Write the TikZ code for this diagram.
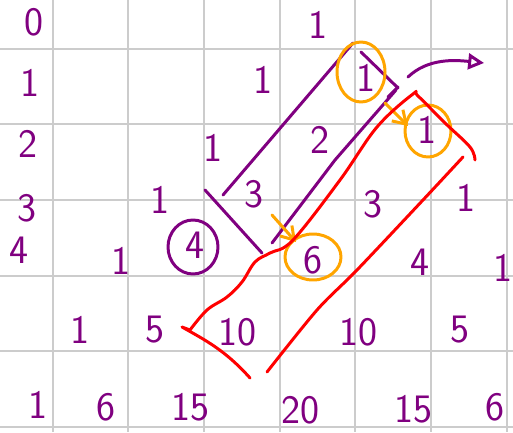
\documentclass[tikz,border=0pt]{standalone}
\usetikzlibrary{arrows.meta}
\definecolor{ink}{RGB}{128,0,128}\definecolor{hl}{RGB}{255,165,0}\definecolor{pen}{RGB}{255,0,0}
\tikzset{>=Stealth,every node/.style={font=\sffamily\fontsize{23}{25}\selectfont,text=ink,inner sep=0pt},
gridline/.style={black!20,line width=1.1pt},stroke/.style={line width=1.7pt,line cap=round,line join=round}}
\begin{document}
\begin{tikzpicture}[x=.02cm,y=-.02cm]
\useasboundingbox (0,0) rectangle (513,432);\fill[white] (0,0) rectangle (513,432);
\foreach \x in {53,128,204,280,355,431,507} \draw[gridline] (\x,0)--(\x,432);
\foreach \y in {49,124,200,276,351,427} \draw[gridline] (0,\y)--(513,\y);
% row labels
\node (r0) at (34,22){0};\node (r1) at (30,83){1};\node (r2) at (28,144){2};\node (r3) at (27,208){3};\node (r4) at (19,250){4};
% triangle
\node (p00) at (318,25){1};
\node (p10) at (263,80){1};\node (p11) at (366,78){1};
\node (p20) at (213,148){1};\node (p21) at (320,140){2};\node (p22) at (427,130){1};
\node (p30) at (160,200){1};\node (p31) at (254,194){3};\node (p32) at (373,204){3};\node (p33) at (466,198){1};
\node (p40) at (121,261){1};\node (p41) at (195,245){4};\node (p42) at (313,260){6};\node (p43) at (420,262){4};\node (p44) at (503,268){1};
\node (p50) at (80,330){1};\node (p51) at (155,330){5};\node (p52) at (237,332){10};\node (p53) at (358,332){10};\node (p54) at (460,330){5};
\node (p60) at (38,405){1};\node (p61) at (106,407){6};\node (p62) at (190,407){15};\node (p63) at (300,410){20};\node (p64) at (413,409){15};\node (p65) at (495,407){6};
% purple strokes
\draw[stroke,ink] (223,195)--(353,43);\draw[stroke,ink] (361,52)--(398,88);\draw[stroke,ink] (388,97)--(398,87);
\draw[stroke,ink] (396,90)--(335,160)--(272,243);\draw[stroke,ink] (205,190)--(262,253);
\draw[stroke,ink] (193,247) ellipse(25 and 27);
\draw[stroke,ink,-{Triangle[open,length=9pt,width=9pt]}] (408,77) .. controls (428,58) and (455,60) .. (484,63);
% orange marks
\draw[stroke,hl] (361,72) ellipse(24 and 30);\draw[stroke,hl] (428,131) ellipse(23 and 26);\draw[stroke,hl] (313,257) ellipse(28 and 23);
\draw[stroke,hl,-{Straight Barb[length=7pt,width=9pt]}] (385,103)--(408,126);
\draw[stroke,hl,-{Straight Barb[length=7pt,width=9pt]}] (272,215)--(296,242);
% red outline
\draw[stroke,pen] (250,378) .. controls (225,350) and (205,340) .. (182,327)--(190,330);
\draw[stroke,pen] plot[smooth,tension=.6] coordinates {(190,330)(207,310)(227,297)(242,282)(255,262)(270,253)(293,240)(340,180)(377,127)(413,94)(418,96)(445,123)(470,147)(475,160)};
\draw[stroke,pen] plot[smooth,tension=.5] coordinates {(463,157)(423,200)(357,270)(317,310)(267,372)};
\end{tikzpicture}
\end{document}
